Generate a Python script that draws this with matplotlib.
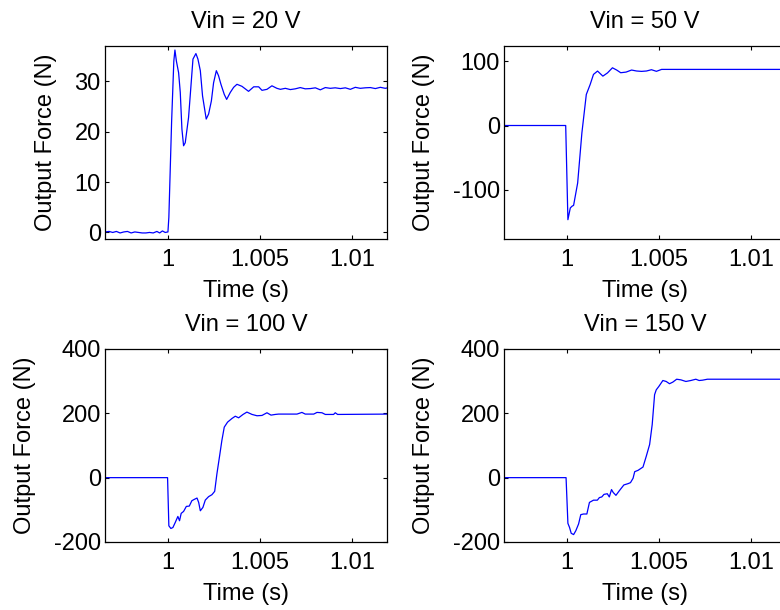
import numpy as np
import matplotlib
matplotlib.use('Agg')
import matplotlib.pyplot as plt

plt.rcParams['font.family'] = ['Liberation Sans', 'DejaVu Sans']
plt.rcParams['font.size'] = 17
plt.rcParams['axes.unicode_minus'] = False

# Vin = 20 V
t20 = [0.99658, 0.99680, 0.99700, 0.99720, 0.99740, 0.99760, 0.99780, 0.99800, 0.99820,
       0.99840, 0.99860, 0.99880, 0.99900, 0.99920, 0.99940, 0.99955, 0.99970, 0.99985,
       1.00000, 1.00005, 1.00020, 1.00032, 1.00038, 1.00046, 1.00058, 1.00067, 1.00076,
       1.00085, 1.00094, 1.00112, 1.00121, 1.00136, 1.00152, 1.00163, 1.00176, 1.00188,
       1.00208, 1.00221, 1.00236, 1.00248, 1.00263, 1.00275, 1.00288, 1.00306, 1.00319,
       1.00339, 1.00357, 1.00375, 1.00402, 1.00438, 1.00466, 1.00493, 1.00511, 1.00538,
       1.00565, 1.00592, 1.00611, 1.00638, 1.00665, 1.00692, 1.00719, 1.00746, 1.00774,
       1.00801, 1.00828, 1.00855, 1.00882, 1.00909, 1.00937, 1.00964, 1.00991, 1.01018,
       1.01045, 1.01072, 1.01100, 1.01127, 1.01154, 1.01181, 1.01194]
f20 = [0.1, 0.2, 0.0, 0.2, -0.1, 0.1, 0.2, -0.1, 0.1,
       0.0, -0.1, -0.1, 0.0, -0.1, 0.2, -0.1, 0.3, 0.0,
       0.1, 3.0, 22.0, 34.0, 36.2, 34.0, 31.7, 27.8, 20.5,
       17.2, 17.8, 22.8, 27.1, 34.4, 35.5, 34.4, 32.1, 27.1,
       22.5, 23.5, 26.1, 29.7, 32.1, 31.1, 29.4, 27.4, 26.4,
       27.8, 28.8, 29.4, 29.0, 28.0, 28.9, 28.9, 28.2, 28.4,
       29.1, 28.6, 28.4, 28.6, 28.35, 28.5, 28.75, 28.5, 28.55,
       28.7, 28.3, 28.75, 28.6, 28.7, 28.55, 28.7, 28.4, 28.8,
       28.6, 28.7, 28.75, 28.55, 28.8, 28.6, 28.7]

# Vin = 50 V
t50 = [0.99658, 0.99993, 1.00005, 1.00018, 1.00027, 1.00036, 1.00058, 1.00081, 1.00105,
       1.00126, 1.00144, 1.00166, 1.00195, 1.00220, 1.00247, 1.00270, 1.00292, 1.00321,
       1.00351, 1.00378, 1.00405, 1.00432, 1.00459, 1.00486, 1.00514, 1.01194]
f50 = [0, 0, -146.9, -128.6, -126, -124.5, -89.6, -11.5, 48.4,
       64, 79.7, 84.9, 77, 82, 90, 86.5, 82.3, 83.3,
       86.5, 85, 84.4, 85, 87, 84.5, 87.5, 87.5]

# Vin = 100 V
t100 = [0.99658, 0.99998, 1.00005, 1.00016, 1.00027, 1.00040, 1.00054, 1.00063, 1.00072,
        1.00085, 1.00100, 1.00116, 1.00130, 1.00143, 1.00158, 1.00167, 1.00176, 1.00190,
        1.00203, 1.00221, 1.00239, 1.00254, 1.00266, 1.00281, 1.00293, 1.00306, 1.00324,
        1.00348, 1.00366, 1.00384, 1.00408, 1.00429, 1.00457, 1.00484, 1.00511, 1.00538,
        1.00560, 1.00583, 1.00601, 1.00647, 1.00701, 1.00728, 1.00746, 1.00792, 1.00810,
        1.00837, 1.00855, 1.00900, 1.00909, 1.00922, 1.01194]
f100 = [0, 0, -149.7, -158, -155, -139, -120.6, -134, -111,
        -105, -89.4, -88.4, -71.7, -67.6, -63.4, -77, -103, -92.5,
        -69.7, -59, -53, -42.6, 11.4, 68.6, 115.4, 157, 172.6,
        184, 191, 186, 196.5, 203.8, 196.5, 192.4, 193.4, 201.7,
        194.4, 196.5, 197.6, 197.6, 197.6, 202.8, 197.6, 197.6, 202.8,
        201.7, 196.5, 196.5, 201.7, 196.5, 197.6]

# Vin = 150 V
t150 = [0.99658, 0.99995, 1.00005, 1.00014, 1.00023, 1.00036, 1.00048, 1.00063, 1.00075,
        1.00090, 1.00108, 1.00122, 1.00144, 1.00165, 1.00176, 1.00189, 1.00201, 1.00219,
        1.00230, 1.00242, 1.00251, 1.00266, 1.00284, 1.00309, 1.00332, 1.00345, 1.00359,
        1.00368, 1.00386, 1.00413, 1.00431, 1.00449, 1.00463, 1.00476, 1.00485, 1.00499,
        1.00521, 1.00539, 1.00557, 1.00575, 1.00596, 1.00619, 1.00646, 1.00673, 1.00700,
        1.00718, 1.00736, 1.00763, 1.01194]
f150 = [0, 0, -142, -155, -173, -177, -165, -144, -115,
        -113, -113, -77, -70, -70, -62, -60, -52, -50,
        -60, -37, -46, -55, -41, -22.7, -18.6, -15.5, -2,
        18.6, 22.7, 33, 67, 103, 165, 258, 273, 283.5,
        302, 299, 292, 297, 306, 304, 299, 302, 306,
        302, 303, 306, 306]

titles = ['Vin = 20 V', 'Vin = 50 V', 'Vin = 100 V', 'Vin = 150 V']
ylims = [(-1.3, 37.0), (-177, 124), (-200, 400), (-200, 400)]
yticks = [[0, 10, 20, 30], [-100, 0, 100], [-200, 0, 200, 400], [-200, 0, 200, 400]]
xticks = [1, 1.005, 1.01]
xticklabels = ['1', '1.005', '1.01']

fig = plt.figure(figsize=(7.8, 6.1), dpi=100)
w = 0.3615
h = 0.3164
positions = [[0.1346, 0.6082, w, h], [0.6462, 0.6082, w, h],
             [0.1346, 0.1115, w, h], [0.6462, 0.1115, w, h]]
data = [(t20, f20), (t50, f50), (t100, f100), (t150, f150)]

for i in range(4):
    ax = fig.add_axes(positions[i])
    t, f = data[i]
    ax.plot(t, f, color='#0000ff', lw=0.9)
    ax.set_xlim(0.99658, 1.0119)
    ax.set_ylim(ylims[i])
    ax.set_xticks(xticks)
    ax.set_xticklabels(xticklabels)
    ax.set_yticks(yticks[i])
    ax.tick_params(direction='in', length=3, width=0.8, top=True, right=True)
    ax.tick_params(axis='x', pad=7)
    ax.tick_params(axis='y', pad=3)
    for s in ax.spines.values():
        s.set_linewidth(0.9)
    ax.set_title(titles[i], pad=13, fontsize=17)
    ax.set_xlabel('Time (s)', labelpad=7)
    ax.set_ylabel('Output Force (N)', labelpad=13)

plt.savefig('out.png', dpi=100)
